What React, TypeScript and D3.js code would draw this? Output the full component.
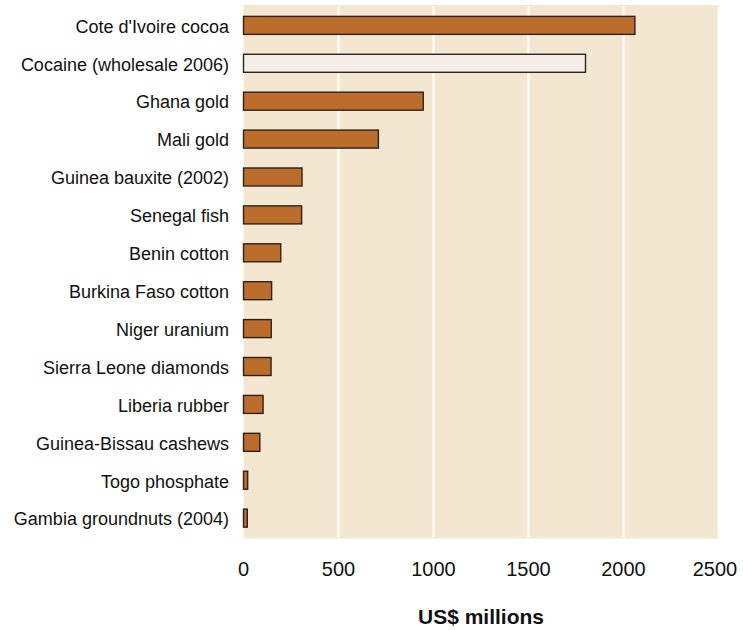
import React from "react";
import * as d3 from "d3";

const categories = [
  "Cote d'Ivoire cocoa",
  "Cocaine (wholesale 2006)",
  "Ghana gold",
  "Mali gold",
  "Guinea bauxite (2002)",
  "Senegal fish",
  "Benin cotton",
  "Burkina Faso cotton",
  "Niger uranium",
  "Sierra Leone diamonds",
  "Liberia rubber",
  "Guinea-Bissau cashews",
  "Togo phosphate",
  "Gambia groundnuts (2004)",
];
const values = [2060, 1800, 946, 710, 308, 306, 196, 148, 146, 145, 103, 86, 22, 20];
const highlighted = ["Cocaine (wholesale 2006)"];
const xTicks = [0, 500, 1000, 1500, 2000, 2500];
const xTitle = "US$ millions";

const W = 743;
const H = 630;
const left = 243.5;
const right = 718.5;
const top = 5;
const bottom = 538.5;

export default function App() {
  const x = d3.scaleLinear().domain([0, 2500]).range([left, right]);
  const y = d3
    .scaleBand<string>()
    .domain(categories)
    .range([top, bottom])
    .paddingInner(0.525)
    .paddingOuter(0.3);
  const font = "Liberation Sans, Arial, Helvetica, sans-serif";
  return (
    <svg
      width={W}
      height={H}
      style={{ position: "absolute", left: 0, top: 0, background: "#fff" }}
      fontFamily={font}
    >
      <rect x={left} y={top} width={right - left} height={bottom - top} fill="#F3E7D1" />
      {xTicks.slice(1).map((t) => (
        <line
          key={"g" + t}
          x1={x(t)}
          x2={x(t)}
          y1={top + 2}
          y2={bottom - 1.5}
          stroke="#ffffff"
          strokeWidth={2}
        />
      ))}
      {categories.map((c, i) => (
        <rect
          key={c}
          x={x(0)}
          y={y(c)}
          width={x(values[i]) - x(0)}
          height={y.bandwidth()}
          fill={highlighted.includes(c) ? "#F5EDE7" : "#BC6C2B"}
          stroke="#2a2420"
          strokeWidth={1.4}
        />
      ))}
      {categories.map((c) => (
        <text
          key={"l" + c}
          x={229}
          y={(y(c) as number) + y.bandwidth() / 2 + 1}
          dy="0.35em"
          textAnchor="end"
          fontSize={18}
          fill="#111"
        >
          {c}
        </text>
      ))}
      {xTicks.map((t) => (
        <text
          key={"t" + t}
          x={t === 2500 ? x(t) - 3.5 : x(t)}
          y={576}
          textAnchor="middle"
          fontSize={20}
          fill="#111"
        >
          {t}
        </text>
      ))}
      <text x={481} y={624} textAnchor="middle" fontSize={21} fontWeight="bold" fill="#111">
        {xTitle}
      </text>
    </svg>
  );
}
